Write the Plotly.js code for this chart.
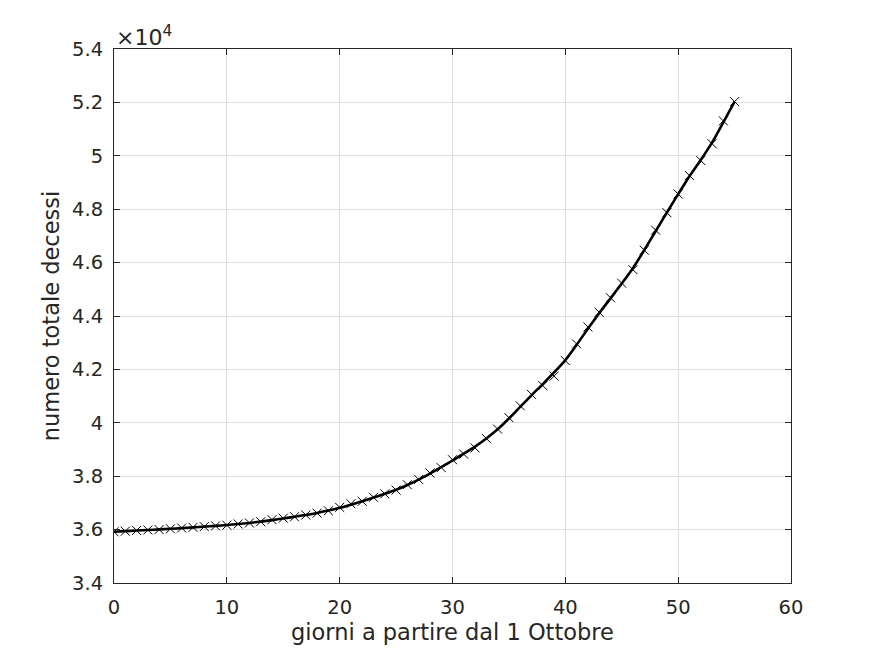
<!DOCTYPE html>
<html>
<head>
<meta charset="utf-8">
<script src="https://cdn.plot.ly/plotly-3.0.1.min.js"></script>
<style>html,body{margin:0;padding:0;background:#fff;}#chart{width:875px;height:656px;}</style>
</head>
<body>
<div id="chart"></div>
<script>
// days since 1 October
const days = [0,1,2,3,4,5,6,7,8,9,10,11,12,13,14,15,16,17,18,19,20,21,22,23,24,25,26,27,28,29,30,31,32,33,34,35,36,37,38,39,40,41,42,43,44,45,46,47,48,49,50,51,52,53,54,55];
// total deaths, markers
const deaths = [35918,35941,35968,35986,36002,36030,36061,36083,36111,36140,36166,36210,36250,36295,36372,36427,36480,36545,36616,36705,36832,36968,37059,37210,37338,37479,37680,37880,38122,38321,38618,38826,39059,39412,39764,40192,40638,41063,41394,41750,42330,42953,43589,44139,44683,45229,45733,46464,47217,47870,48569,49261,49823,50453,51306,52028];
// smooth fitted curve
const fitDeaths = [35920,35942,35965,35987,36008,36031,36057,36083,36111,36140,36172,36208,36250,36298,36356,36418,36482,36550,36625,36712,36815,36935,37062,37198,37340,37492,37670,37872,38098,38338,38588,38842,39110,39412,39755,40160,40598,41030,41450,41885,42350,42920,43525,44105,44660,45215,45800,46470,47175,47875,48565,49235,49845,50495,51255,52030];

const yTickVals = [34000,36000,38000,40000,42000,44000,46000,48000,50000,52000,54000];
const yTickText = ['3.4','3.6','3.8','4','4.2','4.4','4.6','4.8','5','5.2','5.4'];
const xTickVals = [0,10,20,30,40,50,60];

const fontFam = 'DejaVu Sans, sans-serif';
const textCol = '#262626';

const traces = [
  {x: days, y: fitDeaths, type: 'scatter', mode: 'lines',
   line: {color: '#000000', width: 2.6, shape: 'spline', smoothing: 0.8},
   hoverinfo: 'skip', showlegend: false},
  {x: days, y: deaths, type: 'scatter', mode: 'markers',
   marker: {symbol: 'x-thin-open', size: 9, color: '#000000', line: {color: '#000000', width: 1}},
   showlegend: false}
];

const axisCommon = {
  showline: true, linecolor: textCol, linewidth: 1, mirror: 'ticks',
  ticks: 'inside', ticklen: 6, tickwidth: 1, tickcolor: textCol,
  showgrid: true, gridcolor: '#dedede', gridwidth: 1, zeroline: false,
  tickfont: {family: fontFam, size: 19.5, color: textCol}
};

const layout = {
  width: 875, height: 656,
  margin: {l: 114, r: 84, t: 49, b: 73, pad: 0},
  paper_bgcolor: '#ffffff', plot_bgcolor: '#ffffff',
  font: {family: fontFam, color: textCol},
  xaxis: Object.assign({}, axisCommon, {
    range: [0, 60], tickvals: xTickVals, ticklabelstandoff: 7,
    title: {text: 'giorni a partire dal 1 Ottobre', font: {family: fontFam, size: 22.5, color: textCol}, standoff: 4}
  }),
  yaxis: Object.assign({}, axisCommon, {
    range: [34000, 54000], tickvals: yTickVals, ticktext: yTickText, ticklabelstandoff: 6,
    title: {text: 'numero totale decessi', font: {family: fontFam, size: 22.5, color: textCol}, standoff: 6}
  }),
  annotations: [{
    xref: 'paper', yref: 'paper', x: 0, y: 1, xanchor: 'left', yanchor: 'bottom', yshift: -3,
    text: '×10<sup>4</sup>', showarrow: false,
    font: {family: fontFam, size: 22, color: textCol}
  }]
};

Plotly.newPlot('chart', traces, layout, {displayModeBar: false, staticPlot: true});
</script>
</body>
</html>
